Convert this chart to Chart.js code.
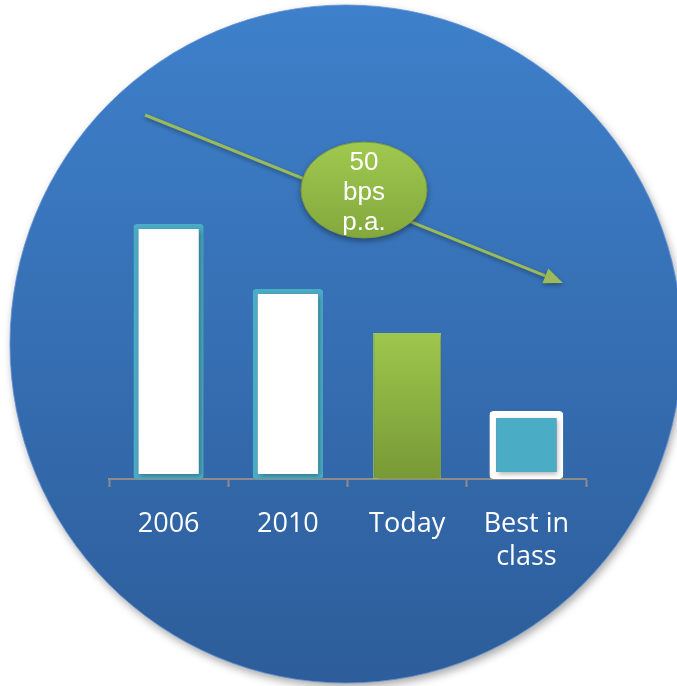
<!DOCTYPE html>
<html>
<head>
<meta charset="utf-8">
<title>Cost trend</title>
<script src="https://cdn.jsdelivr.net/npm/chart.js@4.4.1/dist/chart.umd.min.js"></script>
<style>
  html, body { margin: 0; padding: 0; background: #fff; }
  #wrap { width: 677px; height: 686px; }
</style>
</head>
<body>
<div id="wrap"><canvas id="costChart" width="677" height="686"></canvas></div>
<script>
// bar values (height of each column), one array per bar style
const categories = ['2006', '2010', 'Today', ['Best in', 'class']];
const pastCost = [255, 190, null, null];
const todayCost = [null, null, 146, null];
const bestCost = [null, null, null, 68];
const trendLabel = ['50', 'bps', 'p.a.'];

const TEAL = '#4bacc6';
const AXIS_GREY = '#8c8c8c';

// big blue disc behind everything
const backdrop = {
  id: 'backdrop',
  beforeDraw(chart) {
    const ctx = chart.ctx;
    const cx = 346, cy = 344, rx = 336, ry = 339;
    ctx.save();
    const g = ctx.createLinearGradient(0, cy - ry, 0, cy + ry);
    g.addColorStop(0, '#3e80cb');
    g.addColorStop(1, '#2d5d9a');
    ctx.shadowColor = 'rgba(0,0,0,0.35)';
    ctx.shadowBlur = 8;
    ctx.shadowOffsetX = 2;
    ctx.shadowOffsetY = 4;
    ctx.beginPath();
    ctx.ellipse(cx, cy, rx, ry, 0, 0, Math.PI * 2);
    ctx.fillStyle = g;
    ctx.fill();
    ctx.shadowColor = 'transparent';
    ctx.lineWidth = 1;
    ctx.strokeStyle = 'rgba(95,145,215,0.8)';
    ctx.stroke();
    ctx.restore();
  }
};

// soft shadow under the columns
const barShadow = {
  id: 'barShadow',
  beforeDatasetsDraw(chart) {
    const ctx = chart.ctx;
    ctx.save();
    ctx.shadowColor = 'rgba(0,0,0,0.3)';
    ctx.shadowBlur = 5;
    ctx.shadowOffsetX = 2;
    ctx.shadowOffsetY = 2;
  },
  afterDatasetsDraw(chart) {
    chart.ctx.restore();
  }
};

// downward trend arrow with the rate bubble
const trend = {
  id: 'trend',
  afterDraw(chart) {
    const ctx = chart.ctx;
    const a = chart.chartArea;
    const x0 = a.left + 36, y0 = a.top - 64;
    const x1 = a.right - 23, y1 = a.top + 104;
    const ang = Math.atan2(y1 - y0, x1 - x0);
    const head = 19, half = 8;

    ctx.save();
    ctx.shadowColor = 'rgba(0,0,0,0.35)';
    ctx.shadowBlur = 4;
    ctx.shadowOffsetY = 2;
    ctx.strokeStyle = '#9bbb59';
    ctx.fillStyle = '#9bbb59';
    ctx.lineWidth = 3;
    ctx.beginPath();
    ctx.moveTo(x0, y0);
    ctx.lineTo(x1 - head * Math.cos(ang), y1 - head * Math.sin(ang));
    ctx.stroke();
    ctx.beginPath();
    ctx.moveTo(x1, y1);
    const bx = x1 - head * Math.cos(ang), by = y1 - head * Math.sin(ang);
    ctx.lineTo(bx + half * Math.sin(ang), by - half * Math.cos(ang));
    ctx.lineTo(bx - half * Math.sin(ang), by + half * Math.cos(ang));
    ctx.closePath();
    ctx.fill();
    ctx.restore();

    // bubble
    const ex = a.left + 255, ey = a.top + 11, erx = 63, ery = 48;
    ctx.save();
    const g = ctx.createLinearGradient(0, ey - ery, 0, ey + ery);
    g.addColorStop(0, '#a0c94f');
    g.addColorStop(1, '#83a83d');
    ctx.shadowColor = 'rgba(0,0,0,0.4)';
    ctx.shadowBlur = 6;
    ctx.shadowOffsetY = 3;
    ctx.beginPath();
    ctx.ellipse(ex, ey, erx, ery, 0, 0, Math.PI * 2);
    ctx.fillStyle = g;
    ctx.fill();
    ctx.shadowColor = 'transparent';
    ctx.lineWidth = 1;
    ctx.strokeStyle = '#7d9c3a';
    ctx.stroke();

    ctx.fillStyle = '#ffffff';
    ctx.font = '26px "Liberation Sans", Arial, sans-serif';
    ctx.textAlign = 'center';
    ctx.textBaseline = 'alphabetic';
    trendLabel.forEach((line, i) => {
      ctx.fillText(line, ex, ey - 20 + i * 30);
    });
    ctx.restore();
  }
};

const todayFill = (context) => {
  const chart = context.chart;
  if (!chart.chartArea) return '#8fb44a';
  const y = chart.scales.y;
  const g = chart.ctx.createLinearGradient(0, y.getPixelForValue(todayCost[2]), 0, y.getPixelForValue(0));
  g.addColorStop(0, '#9ec74c');
  g.addColorStop(1, '#779936');
  return g;
};

new Chart(document.getElementById('costChart'), {
  type: 'bar',
  data: {
    labels: categories,
    datasets: [
      {
        data: pastCost,
        backgroundColor: '#ffffff',
        borderColor: TEAL,
        borderWidth: 5,
        borderSkipped: false,
        borderRadius: 3,
        barPercentage: 0.59
      },
      {
        data: todayCost,
        backgroundColor: todayFill,
        borderColor: '#a8cc60',
        borderWidth: 1,
        borderSkipped: false,
        barPercentage: 0.57
      },
      {
        data: bestCost,
        backgroundColor: TEAL,
        borderColor: '#ffffff',
        borderWidth: 7,
        borderSkipped: false,
        borderRadius: 4,
        barPercentage: 0.62
      }
    ]
  },
  options: {
    responsive: false,
    animation: false,
    devicePixelRatio: 1,
    grouped: false,
    categoryPercentage: 1,
    layout: {
      padding: { left: 109, right: 91, top: 179, bottom: 87 }
    },
    plugins: {
      legend: { display: false },
      tooltip: { enabled: false }
    },
    scales: {
      y: {
        display: false,
        min: 0,
        max: 300
      },
      x: {
        afterFit: (scale) => { scale.height = 120; },
        grid: {
          drawOnChartArea: false,
          drawTicks: true,
          tickLength: 8,
          tickWidth: 2,
          color: AXIS_GREY
        },
        border: { display: true, color: AXIS_GREY, width: 2 },
        ticks: {
          color: '#ffffff',
          padding: 21,
          maxRotation: 0,
          autoSkip: false,
          font: { family: '"Open Sans", "DejaVu Sans", sans-serif', size: 27, lineHeight: 1.22 }
        }
      }
    }
  },
  plugins: [backdrop, barShadow, trend]
});
</script>
</body>
</html>
